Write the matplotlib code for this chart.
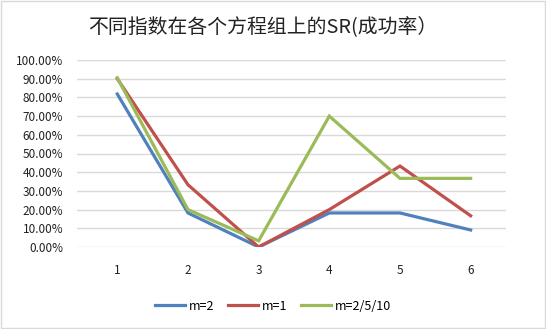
import matplotlib.pyplot as plt
from matplotlib.ticker import PercentFormatter

plt.rcParams['font.family'] = ['Noto Sans CJK SC', 'DejaVu Sans']

groups = [1, 2, 3, 4, 5, 6]
m2 = [0.818, 0.182, 0.0, 0.182, 0.182, 0.091]
m1 = [0.90, 0.333, 0.0, 0.20, 0.433, 0.167]
m2510 = [0.905, 0.20, 0.033, 0.70, 0.367, 0.367]
labels = ['m=2', 'm=1', 'm=2/5/10']
colors = ['#4F81BD', '#C0504D', '#9BBB59']

fig = plt.figure(figsize=(5.46, 3.29), dpi=100)
ax = fig.add_axes([77 / 546, 1 - 247 / 329, (506 - 77) / 546, (247 - 60) / 329])

for ys, lab, c in zip([m2, m1, m2510], labels, colors):
    ax.plot(groups, ys, color=c, lw=2.3, label=lab, solid_joinstyle='miter')

ax.set_xlim(0.43, 6.5)
ax.set_ylim(0, 1.0)
ax.set_yticks([i / 10 for i in range(11)])
ax.yaxis.set_major_formatter(PercentFormatter(1.0, decimals=2))
ax.grid(axis='y', color='#D9D9D9', lw=1)
ax.set_axisbelow(True)
for s in ax.spines.values():
    s.set_visible(False)
ax.tick_params(length=0, labelsize=8.5, colors='#222222')
ax.tick_params(axis='x', pad=12)
ax.tick_params(axis='y', pad=10)

fig.text(0.482, 1 - 27 / 329, '不同指数在各个方程组上的SR(成功率）', ha='center', va='center',
         fontsize=14.3, color='#222222')
fig.legend(loc='center', bbox_to_anchor=(0.5, 1 - 306 / 329), ncol=3, frameon=False,
           fontsize=9, handlelength=2.4, handletextpad=0.3, columnspacing=1.1)

fig.patches.append(plt.Rectangle((0.002, 0.004), 0.996, 0.992, transform=fig.transFigure,
                                 fill=False, edgecolor='#D9D9D9', lw=1))
fig.savefig('out.png', dpi=100)
